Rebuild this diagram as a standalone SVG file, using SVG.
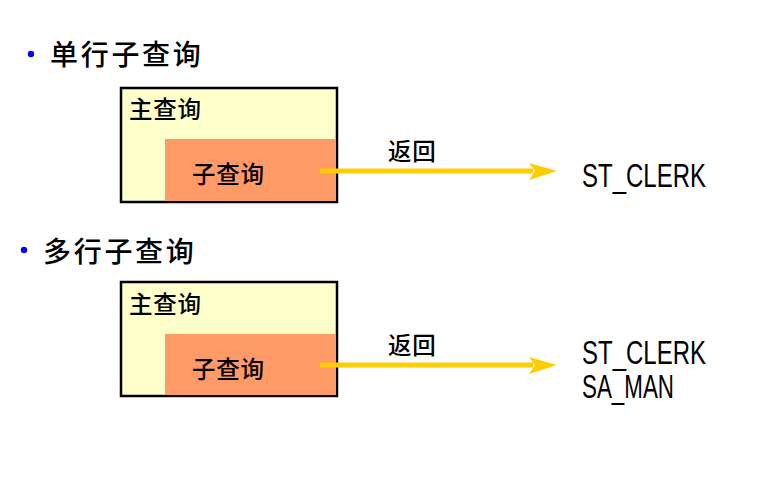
<svg xmlns="http://www.w3.org/2000/svg" width="784" height="480" viewBox="0 0 784 480">
<defs>
<style>
.cjk{font-family:"Noto Sans CJK SC","Noto Sans",sans-serif;fill:#000}
.title{font-size:28px;letter-spacing:2.7px;font-weight:500}
.lbl{font-size:23.5px;letter-spacing:0.8px;font-weight:500}
.outer{fill:#FFFFCC;stroke:#000;stroke-width:2.5}
.inner{fill:#FF9966}
.bullet{fill:#0000FF}
.res{font-family:"Liberation Sans",Arial,sans-serif;font-size:33px;fill:#000}
.arrow{stroke:#FFCC00;stroke-width:5;fill:none}
.head{fill:#FFCC00}
</style>
</defs>
<rect width="784" height="480" fill="#FFFFFF"/>
<g id="title1">
<circle class="bullet" cx="31" cy="54" r="3.2"/>
<text class="cjk title" x="50" y="65">单行子查询</text>
</g>
<g id="main1">
<rect class="outer" x="121" y="88" width="216" height="114"/>
<text class="cjk lbl" x="129" y="118">主查询</text>
</g>
<g id="sub1">
<rect class="inner" x="165" y="139" width="171" height="62"/>
<text class="cjk lbl" x="192" y="183">子查询</text>
</g>
<g id="result1">
<text class="res" x="582" y="187" textLength="124" lengthAdjust="spacingAndGlyphs">ST_CLERK</text>
</g>
<g id="title2">
<circle class="bullet" cx="24" cy="250" r="3.2"/>
<text class="cjk title" x="43" y="262">多行子查询</text>
</g>
<g id="main2">
<rect class="outer" x="121" y="282" width="216" height="114"/>
<text class="cjk lbl" x="129" y="313">主查询</text>
</g>
<g id="sub2">
<rect class="inner" x="165" y="334" width="171" height="61"/>
<text class="cjk lbl" x="192" y="378">子查询</text>
</g>
<g id="result2">
<text class="res" x="582" y="364" textLength="124" lengthAdjust="spacingAndGlyphs">ST_CLERK</text>
<text class="res" x="582" y="398" textLength="92" lengthAdjust="spacingAndGlyphs">SA_MAN</text>
</g>
<g id="connectors">
<line class="arrow" x1="320" y1="171" x2="533" y2="171"/>
<path class="head" d="M557,171 L529,163 L535,171 L529,180 Z"/>
<text class="cjk lbl" x="388" y="160">返回</text>
<line class="arrow" x1="320" y1="365" x2="533" y2="365"/>
<path class="head" d="M557,365 L529,357 L535,365 L529,374 Z"/>
<text class="cjk lbl" x="388" y="354">返回</text>
</g>
</svg>
